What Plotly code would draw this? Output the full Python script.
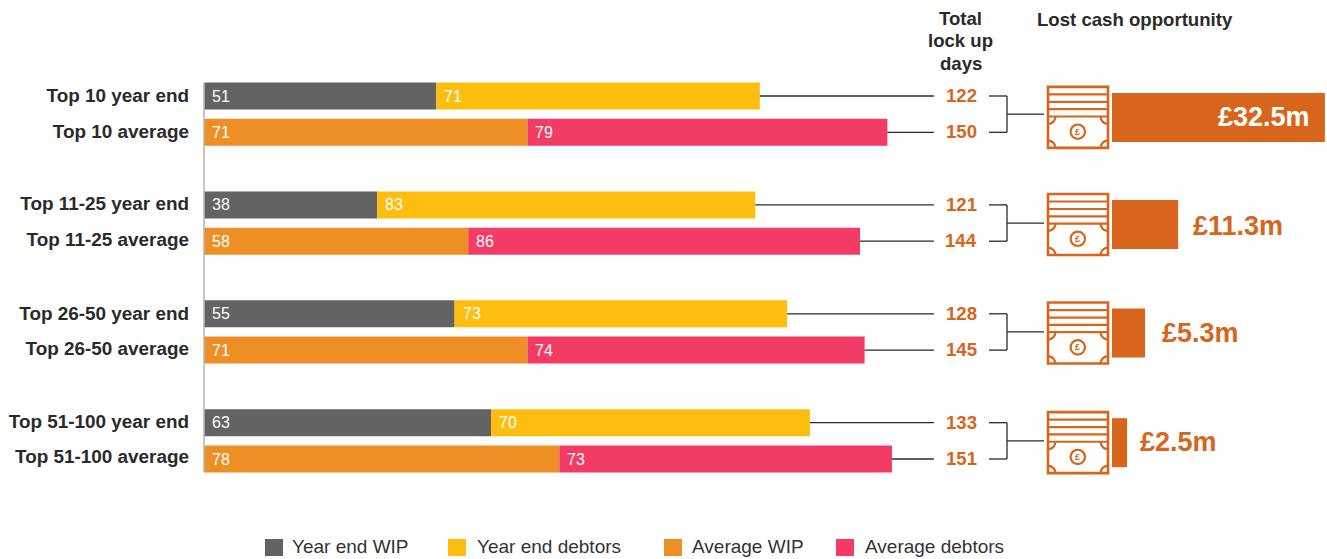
import plotly.graph_objects as go

W, H = 1327, 559

row_labels = ["Top 10 year end", "Top 10 average", "Top 11-25 year end", "Top 11-25 average",
              "Top 26-50 year end", "Top 26-50 average", "Top 51-100 year end", "Top 51-100 average"]
label_rows = [-0.03, 0.97, 2.97, 3.95, 6.0, 6.95, 8.97, 9.92]
year_end_rows = [0, 3, 6, 9]
average_rows = [1, 4, 7, 10]
year_end_wip = [51, 38, 55, 63]
year_end_debtors = [71, 83, 73, 70]
average_wip = [71, 58, 71, 78]
average_debtors = [79, 86, 74, 73]
year_end_totals = [122, 121, 128, 133]
average_totals = [150, 144, 145, 151]
lost_labels = ["£32.5m", "£11.3m", "£5.3m", "£2.5m"]
lost_lengths = [32.5, 10.1, 5.05, 2.3]
lost_rows = [0.59, 3.54, 6.53, 9.55]
series_names = ["Year end WIP", "Year end debtors", "Average WIP", "Average debtors"]

C_WIP, C_DEBT, C_AWIP, C_ADEBT = "#636363", "#fdbe10", "#ee8f25", "#f23b65"
ORANGE = "#d7651c"
DARK = "#2b2a2a"
FONT = "Liberation Sans"

# pixel helpers for chart furniture
ROW0, ROWH = 96.0, 36.3
X0, XS = 204.0, 4.556
X2_0, X2S = 1112.0, 6.55
px = lambda v: v / W
py = lambda v: 1 - v / H
row_px = lambda r: ROW0 + ROWH * r

fig = go.Figure()
for name, rows, vals, base_vals, col in [
    (series_names[0], year_end_rows, year_end_wip, None, C_WIP),
    (series_names[1], year_end_rows, year_end_debtors, year_end_wip, C_DEBT),
    (series_names[2], average_rows, average_wip, None, C_AWIP),
    (series_names[3], average_rows, average_debtors, average_wip, C_ADEBT),
]:
    fig.add_trace(go.Bar(name=name, y=rows, x=vals, base=base_vals, orientation="h",
                         width=27 / ROWH, marker=dict(color=col, line_width=0), showlegend=False,
                         hoverinfo="x+name"))

fig.add_trace(go.Bar(name="Lost cash opportunity", y=lost_rows, x=lost_lengths, orientation="h",
                     width=49 / ROWH, marker=dict(color=ORANGE, line_width=0), showlegend=False,
                     xaxis="x2", yaxis="y", text=lost_labels, textposition="none", hoverinfo="text"))

ann, shp = [], []

def text(x, y, s, size=15, color=DARK, anchor="center", bold=False, **kw):
    ann.append(dict(x=px(x), y=py(y), xref="paper", yref="paper", text=f"<b>{s}</b>" if bold else s,
                    showarrow=False, xanchor=anchor, yanchor="middle",
                    font=dict(family=FONT, size=size, color=color), **kw))

def line(x0, y0, x1, y1, color=DARK, width=1.3):
    shp.append(dict(type="line", xref="paper", yref="paper", x0=px(x0), y0=py(y0), x1=px(x1), y1=py(y1),
                    line=dict(color=color, width=width)))

# value labels on segments
for rows, a, b in [(year_end_rows, year_end_wip, year_end_debtors), (average_rows, average_wip, average_debtors)]:
    for r, v1, v2 in zip(rows, a, b):
        for start, v in [(0, v1), (v1, v2)]:
            ann.append(dict(x=start, y=r, xref="x", yref="y", text=str(v), showarrow=False, xanchor="left",
                            xshift=6, yanchor="middle", font=dict(family=FONT, size=16, color="white")))

# axis line
line(X0, 83, X0, 472, "#b8b8b8", 1.6)

# totals, connectors
all_rows = year_end_rows + average_rows
all_totals = year_end_totals + average_totals
for r, t in zip(all_rows, all_totals):
    y = row_px(r)
    shp.append(dict(type="line", xref="x", yref="y", x0=t, x1=160.2, y0=r, y1=r, line=dict(color=DARK, width=1.3)))
    text(961, y - 0.5, str(t), 18.6, ORANGE, bold=True)
    line(989, y, 1007, y)

def icon(cy):
    t, b, l, r = cy - 30.5, cy + 30.5, 1048, 1108
    lw = 2.6
    shp.append(dict(type="rect", xref="paper", yref="paper", x0=px(l), x1=px(r), y0=py(t), y1=py(b),
                    line=dict(color=ORANGE, width=lw)))
    for d in (7.5, 15, 22.3, 29.6):
        line(l, t + d, r, t + d, ORANGE, 2.2)
    top = t + 29.6
    s = 7.5
    for (x, y, xd, yd) in [(l, top, 1, 1), (r, top, -1, 1), (l, b, 1, -1), (r, b, -1, -1)]:
        p0 = (px(x + xd * s), py(y))
        p1 = (px(x), py(y + yd * s))
        c = (px(x + xd * s * 0.9), py(y + yd * s * 0.9))
        shp.append(dict(type="path", xref="paper", yref="paper",
                        path=f"M {p0[0]} {p0[1]} Q {c[0]} {c[1]} {p1[0]} {p1[1]}",
                        line=dict(color=ORANGE, width=2.2)))
    ccx, ccy, rad = 1077.8, cy + 14.3, 7.2
    shp.append(dict(type="circle", xref="paper", yref="paper", x0=px(ccx - rad), x1=px(ccx + rad),
                    y0=py(ccy - rad), y1=py(ccy + rad), line=dict(color=ORANGE, width=2.2)))
    text(ccx, ccy, "£", 9, ORANGE, bold=True)

for i, r in enumerate(lost_rows):
    cy = row_px(r)
    ya, yb = row_px(year_end_rows[i]), row_px(average_rows[i])
    line(1007, ya, 1007, yb)
    line(1007, (ya + yb) / 2, 1044, (ya + yb) / 2)
    icon(cy)
    end = X2_0 + lost_lengths[i] * X2S
    if i == 0:
        text(1312, cy - 0.5, lost_labels[i], 27, "white", "right", True)
    else:
        text(end + [0, 13, 15, 11][i], cy + [0, 1, 0, -1][i], lost_labels[i], 27, ORANGE, "left", True)

# headers
for y, s in [(18.5, "Total"), (40.5, "lock up"), (63.5, "days")]:
    text(960.5, y, s, 18.6, DARK, bold=True)
text(1035, 19, "Lost cash opportunity", 18.6, DARK, "left", True)

# legend
for sx, tx, name, col in [(265, 290, series_names[0], C_WIP), (448, 475, series_names[1], C_DEBT),
                          (664, 690, series_names[2], C_AWIP), (836, 863, series_names[3], C_ADEBT)]:
    shp.append(dict(type="rect", xref="paper", yref="paper", x0=px(sx), x1=px(sx + 18), y0=py(539), y1=py(556),
                    fillcolor=col, line_width=0))
    text(tx, 546, name, 19, "#333333", "left")

fig.update_layout(
    width=W, height=H, margin=dict(l=0, r=0, t=0, b=0), autosize=False,
    barmode="overlay", plot_bgcolor="white", paper_bgcolor="white",
    annotations=ann, shapes=shp,
    xaxis=dict(domain=[X0 / W, 1], range=[0, (W - X0) / XS], visible=False),
    xaxis2=dict(domain=[X2_0 / W, 1], range=[0, (W - X2_0) / X2S], visible=False, anchor="y"),
    yaxis=dict(domain=[0, 1], range=[(H - ROW0) / ROWH, -ROW0 / ROWH], showgrid=False, zeroline=False,
               showline=False, tickvals=label_rows, ticktext=[f"<b>{t}</b>" for t in row_labels],
               ticks="", ticklabelstandoff=14, automargin=False,
               tickfont=dict(family=FONT, size=18.9, color=DARK)),
)
fig.write_html("out.html", config=dict(displayModeBar=False),
               post_script="document.body.style.margin='0';")
